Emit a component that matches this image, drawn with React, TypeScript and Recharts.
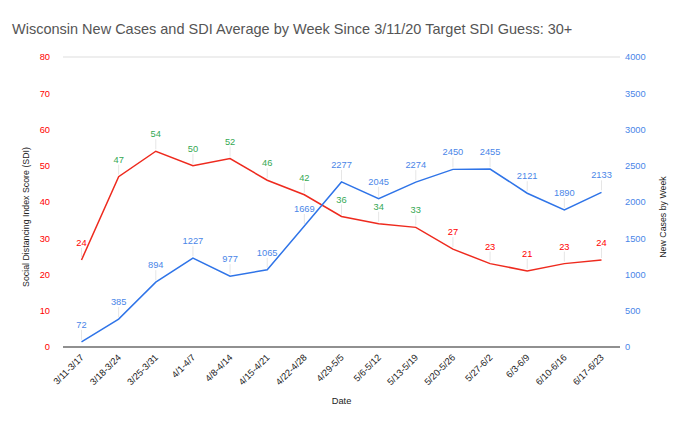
import React from 'react';
import { LineChart, Line, XAxis, YAxis, CartesianGrid, Label } from 'recharts';

const weeks = ['3/11-3/17', '3/18-3/24', '3/25-3/31', '4/1-4/7', '4/8-4/14', '4/15-4/21', '4/22-4/28', '4/29-5/5', '5/6-5/12', '5/13-5/19', '5/20-5/26', '5/27-6/2', '6/3-6/9', '6/10-6/16', '6/17-6/23'];
const sdi = [24, 47, 54, 50, 52, 46, 42, 36, 34, 33, 27, 23, 21, 23, 24];
const newCases = [72, 385, 894, 1227, 977, 1065, 1669, 2277, 2045, 2274, 2450, 2455, 2121, 1890, 2133];
const sdiTicks = [0, 10, 20, 30, 40, 50, 60, 70, 80];
const caseTicks = [0, 500, 1000, 1500, 2000, 2500, 3000, 3500, 4000];
const targetSdi = 30;

const data = weeks.map((w, i) => ({ week: w, sdi: sdi[i], cases: newCases[i] }));

const FONT = "Arial, 'Liberation Sans', sans-serif";
const RED = '#ee2a1e';
const BLUE = '#2f74e8';
const BLUE_TEXT = '#4a86e8';
const GREEN = '#34a853';

// value label with a faint leader line up from the point
const pointLabel = (colorOf: (v: number) => string) => (props: any) => {
  const { x, y, value } = props;
  return (
    <g>
      <line x1={x} y1={y - 2} x2={x} y2={y - 12} stroke="#e6e6e6" strokeWidth={1} />
      <text x={x} y={y - 14} textAnchor="middle" fontSize={9.3} fill={colorOf(value)} fontFamily={FONT}>
        {value}
      </text>
    </g>
  );
};

const XTick = (props: any) => {
  const { x, y, payload } = props;
  return (
    <text x={x + 3} y={y + 3} transform={`rotate(-45, ${x + 3}, ${y + 3})`} textAnchor="end" fontSize={9.3} fill="#222" fontFamily={FONT}>
      {payload.value}
    </text>
  );
};

const axisTitle = (text: string, cx: number, cy: number) => () => (
  <text x={cx} y={cy} transform={`rotate(-90, ${cx}, ${cy})`} textAnchor="middle" dominantBaseline="central" fontSize={8.8} fill="#222" fontFamily={FONT}>
    {text}
  </text>
);

export default function App() {
  return (
    <div style={{ position: 'absolute', left: 0, top: 0, width: 690, height: 426, background: '#fff', fontFamily: FONT }}>
      <div style={{ position: 'absolute', left: 12, top: 21, fontSize: 14.5, color: '#555', whiteSpace: 'nowrap' }}>
        Wisconsin New Cases and SDI Average by Week Since 3/11/20 Target SDI Guess: 30+
      </div>
      <LineChart width={690} height={426} data={data} margin={{ top: 57, right: 0, bottom: 0, left: 0 }}>
        <CartesianGrid vertical={false} stroke="#dddddd" />
        <XAxis
          dataKey="week"
          interval={0}
          height={79}
          tick={<XTick />}
          tickLine={false}
          stroke="#333"
          padding={{ left: 18.5, right: 18.5 }}
        >
          <Label value="Date" position="insideBottom" offset={22} fontSize={9.3} fill="#222" fontFamily={FONT} />
        </XAxis>
        <YAxis
          yAxisId="sdi"
          domain={[0, 80]}
          ticks={sdiTicks}
          width={63}
          axisLine={false}
          tickLine={false}
          tickSize={0}
          tickMargin={13}
          tick={{ fontSize: 9.3, fill: '#ff0000', fontFamily: FONT }}
        >
          <Label content={axisTitle('Social Distancing Index Score (SDI)', 25.5, 217)} />
        </YAxis>
        <YAxis
          yAxisId="cases"
          orientation="right"
          domain={[0, 4000]}
          ticks={caseTicks}
          width={70}
          axisLine={false}
          tickLine={false}
          tickSize={0}
          tickMargin={5}
          tick={{ fontSize: 9.3, fill: BLUE_TEXT, fontFamily: FONT, textAnchor: 'start' }}
        >
          <Label content={axisTitle('New Cases by Week', 663, 217)} />
        </YAxis>
        <Line
          yAxisId="sdi"
          dataKey="sdi"
          stroke={RED}
          strokeWidth={1.5}
          dot={false}
          isAnimationActive={false}
          label={pointLabel((v) => (v >= targetSdi ? GREEN : '#ff0000'))}
        />
        <Line
          yAxisId="cases"
          dataKey="cases"
          stroke={BLUE}
          strokeWidth={1.5}
          dot={false}
          isAnimationActive={false}
          label={pointLabel(() => BLUE_TEXT)}
        />
      </LineChart>
    </div>
  );
}
